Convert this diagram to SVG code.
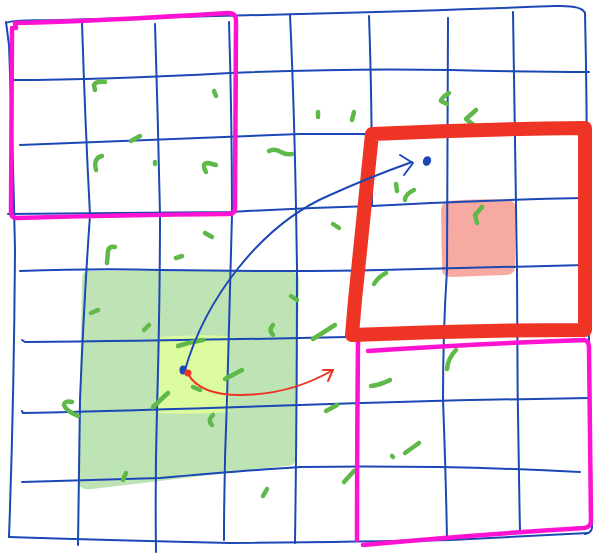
<svg xmlns="http://www.w3.org/2000/svg" width="595" height="553" viewBox="0 0 595 553">
<style>
.g{fill:none;stroke:#1c48b6;stroke-width:2;stroke-linecap:round;stroke-linejoin:round}
.m{fill:none;stroke:#5fb949;stroke-width:4.5;stroke-linecap:round;stroke-linejoin:round}
.pk{fill:none;stroke:#ff12d2;stroke-width:4.5;stroke-linecap:round;stroke-linejoin:round}
</style>
<rect width="595" height="553" fill="#ffffff"/>
<g id="fills">
<path d="M86,271 Q190,269 294,272 Q300,274 299,282 L296,460 Q294,466 286,466 L92,489 Q79,491 78,481 L82,280 Q82,272 86,271 Z" fill="#bee3b5"/>
<path d="M160,337 Q195,334 228,336 L229,412 Q195,415 158,413 Z" fill="#dcfb9e"/>
<path d="M447,201 Q480,198 510,200 Q516,202 516,210 L515,268 Q514,275 505,275 L452,277 Q442,277 442,269 L441,210 Q442,202 447,201 Z" fill="#f7aaa2"/>
</g>
<g id="grid">
<path class="g" d="M6,23 Q8,20 60,20 Q150,18 300,14 Q450,10 555,6 Q582,5 585,13"/>
<path class="g" d="M585,13 Q587,100 587,200 Q588,300 589,340 Q591,450 592,527 Q592,533 585,534"/>
<path class="g" d="M6,22 L9,45 Q13,150 15,250 Q14,400 9,537"/>
<path class="g" d="M9,537 Q100,540 230,543 Q350,542 450,540 Q530,536 588,533"/>
<path class="g" d="M14,80 Q100,80 230,73 Q350,68 450,70 Q530,72 589,72"/>
<path class="g" d="M20,145 Q150,140 300,134 L372,134"/>
<path class="g" d="M8,214 Q150,213 230,212 Q300,208 372,206 Q480,200 585,198"/>
<path class="g" d="M20,271 Q100,268 160,270 Q300,272 380,270 Q480,268 585,265"/>
<path class="g" d="M22,340 L25,342 Q150,341 300,338 Q450,335 585,332"/>
<path class="g" d="M22,411 L23,413 Q150,410 300,405 Q450,400 589,398"/>
<path class="g" d="M22,482 Q100,480 160,478 Q250,470 300,467 Q450,465 580,472"/>
<path class="g" d="M82,22 Q85,120 90,215 Q84,300 80,400 L78,545"/>
<path class="g" d="M155,24 Q158,120 160,215 Q160,300 157,410 Q155,480 156,552"/>
<path class="g" d="M229,22 Q232,120 232,215 Q230,300 227,400 Q224,470 224,540"/>
<path class="g" d="M290,15 Q295,120 297,270 Q297,400 295,543"/>
<path class="g" d="M369,16 Q372,100 372,205"/>
<path class="g" d="M359,340 Q356,450 357,540"/>
<path class="g" d="M448,18 Q448,150 447,270 Q443,330 443,400 Q446,480 447,540"/>
<path class="g" d="M513,12 Q515,150 517,270 Q517,400 520,530"/>
</g>
<g id="marks">
<path class="m" d="M95,90 L94,85 Q96,81 105,82"/>
<path class="m" d="M214,91 L216,96"/>
<path class="m" d="M131,141 L140,136"/>
<path class="m" d="M96,170 Q93,158 102,156"/>
<path class="m" d="M155,162 L155,164"/>
<path class="m" d="M206,172 Q201,163 208,163 L216,165"/>
<path class="m" d="M269,151 Q275,148 281,152 Q286,155 292,154"/>
<path class="m" d="M205,233 L212,237"/>
<path class="m" d="M107,263 L108,251 Q109,246 115,247"/>
<path class="m" d="M176,258 L182,256"/>
<path class="m" d="M318,112 L318,117"/>
<path class="m" d="M354,112 L352,120"/>
<path class="m" d="M449,93 Q441,98 441,101 L447,104"/>
<path class="m" d="M476,110 L466,119 L475,126"/>
<path class="m" d="M396,184 L397,191"/>
<path class="m" d="M405,200 Q405,194 414,190"/>
<path class="m" d="M333,224 L339,228"/>
<path class="m" d="M482,207 L475,215 L477,223"/>
<path class="m" d="M374,284 Q378,277 386,273"/>
<path class="m" d="M313,339 L335,325"/>
<path class="m" d="M371,386 Q380,385 390,380"/>
<path class="m" d="M456,350 Q448,358 447,369"/>
<path class="m" d="M326,411 L337,405"/>
<path class="m" d="M392,456 L393,457"/>
<path class="m" d="M405,453 L419,443"/>
<path class="m" d="M344,482 L354,471"/>
<path class="m" d="M291,296 L297,300"/>
<path class="m" d="M91,313 L98,310"/>
<path class="m" d="M144,330 L149,325"/>
<path class="m" d="M273,325 Q268,330 273,335"/>
<path class="m" d="M178,346 Q190,342 203,340"/>
<path class="m" d="M225,379 L242,370"/>
<path class="m" d="M193,387 L200,390"/>
<path class="m" d="M153,407 L168,393"/>
<path class="m" d="M78,416 Q66,411 64,405 Q65,400 72,402"/>
<path class="m" d="M213,415 Q207,420 212,425"/>
<path class="m" d="M126,473 L123,480"/>
<path class="m" d="M267,489 L263,496"/>
</g>
<g id="box-pink-top">
<path class="pk" d="M16,28 L15,23 Q100,21 228,13 Q236,13 236,20 L235,208 Q235,214 229,214 Q120,215 17,218 Q11,218 11,212 L12,28"/>
</g>
<g id="box-pink-bottom">
<path class="pk" d="M368,351 Q470,344 584,340 Q589,341 589,347 L591,521 Q591,527 584,528 Q470,535 363,545"/>
<path class="pk" d="M358,342 Q357,450 357,540"/>
</g>
<g id="box-red">
<path d="M372,134 Q480,129 585,128 L585,330 Q470,330 352,335 L355,300 Q365,200 372,134 Z" fill="none" stroke="#ee3424" stroke-width="14" stroke-linejoin="round" stroke-linecap="round"/>
</g>
<g id="connectors">
<path d="M185,370 C205,300 260,225 330,195 Q370,177 412,162" fill="none" stroke="#1c48b6" stroke-width="2" stroke-linecap="round"/>
<path d="M400,155 L413,163 L404,175" fill="none" stroke="#1c48b6" stroke-width="2" stroke-linecap="round" stroke-linejoin="round"/>
<path d="M188,374 Q200,395 240,395 Q290,395 333,370" fill="none" stroke="#ee3424" stroke-width="2" stroke-linecap="round"/>
<path d="M323,370 L333,370 L328,381" fill="none" stroke="#ee3424" stroke-width="2" stroke-linecap="round" stroke-linejoin="round"/>
<ellipse cx="183" cy="370" rx="3.5" ry="4.5" fill="#1c48b6"/>
<ellipse cx="188" cy="373" rx="3.5" ry="3.5" fill="#ee3424"/>
<ellipse cx="427" cy="161" rx="4" ry="5" fill="#1c48b6" transform="rotate(25 427 161)"/>
</g>
</svg>
